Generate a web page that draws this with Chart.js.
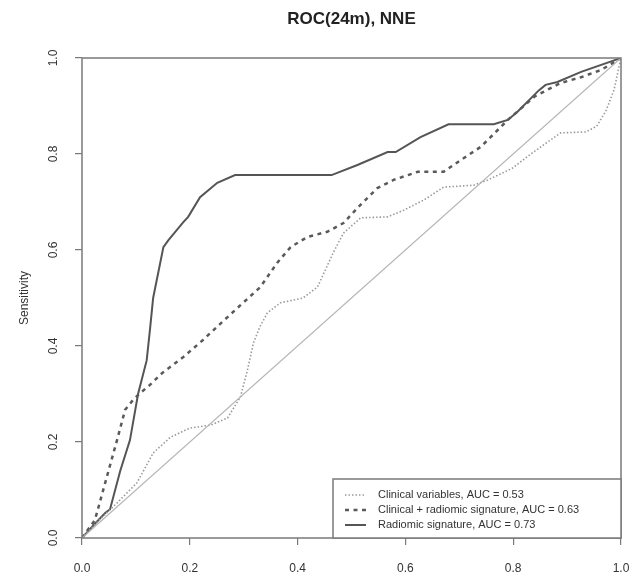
<!DOCTYPE html>
<html>
<head>
<meta charset="utf-8">
<script src="https://cdn.jsdelivr.net/npm/chart.js@4.4.1/dist/chart.umd.min.js"></script>
<style>
  html, body { margin: 0; padding: 0; background: #fff; }
  #wrap { width: 631px; height: 577px; }
</style>
</head>
<body>
<div id="wrap"><canvas id="roc" width="631" height="577"></canvas></div>
<script>
// ROC curves at 24 months (1 - specificity vs sensitivity)
const chartTitle = 'ROC(24m), NNE';
const axisTicks = [0, 0.2, 0.4, 0.6, 0.8, 1.0];

const clinicalFpr = [0, 0.03, 0.065, 0.102, 0.132, 0.164, 0.2, 0.238, 0.27, 0.294, 0.307, 0.318, 0.33, 0.344, 0.368, 0.41, 0.437, 0.466, 0.485, 0.517, 0.567, 0.597, 0.634, 0.671, 0.727, 0.753, 0.798, 0.835, 0.888, 0.935, 0.955, 0.972, 0.987, 0.996, 1];
const clinicalTpr = [0, 0.035, 0.073, 0.115, 0.177, 0.21, 0.229, 0.235, 0.25, 0.294, 0.35, 0.406, 0.44, 0.469, 0.49, 0.5, 0.523, 0.594, 0.635, 0.667, 0.669, 0.683, 0.704, 0.731, 0.735, 0.746, 0.77, 0.802, 0.844, 0.846, 0.858, 0.89, 0.933, 0.98, 1];

const combinedFpr = [0, 0.024, 0.046, 0.065, 0.08, 0.095, 0.108, 0.126, 0.149, 0.188, 0.225, 0.26, 0.294, 0.331, 0.362, 0.387, 0.418, 0.455, 0.485, 0.513, 0.548, 0.578, 0.623, 0.671, 0.697, 0.74, 0.79, 0.84, 0.888, 0.926, 0.963, 1];
const combinedTpr = [0, 0.0375, 0.127, 0.204, 0.267, 0.288, 0.302, 0.319, 0.344, 0.377, 0.413, 0.45, 0.485, 0.523, 0.573, 0.606, 0.627, 0.638, 0.656, 0.69, 0.729, 0.746, 0.763, 0.763, 0.783, 0.815, 0.871, 0.92, 0.948, 0.96, 0.975, 1];

const radiomicFpr = [0, 0.02, 0.043, 0.052, 0.071, 0.089, 0.104, 0.12, 0.126, 0.132, 0.151, 0.16, 0.188, 0.197, 0.219, 0.251, 0.284, 0.463, 0.511, 0.567, 0.582, 0.628, 0.68, 0.764, 0.79, 0.808, 0.848, 0.86, 0.882, 0.926, 1];
const radiomicTpr = [0, 0.025, 0.052, 0.06, 0.14, 0.204, 0.3, 0.37, 0.433, 0.5, 0.606, 0.62, 0.658, 0.669, 0.71, 0.74, 0.756, 0.756, 0.777, 0.804, 0.804, 0.835, 0.862, 0.862, 0.871, 0.888, 0.933, 0.944, 0.95, 0.971, 1];

const chanceFpr = [0, 1];
const chanceTpr = [0, 1];

const seriesLabels = [
  'Clinical variables, AUC = 0.53',
  'Clinical + radiomic signature, AUC = 0.63',
  'Radiomic signature, AUC = 0.73'
];

const zip = (xs, ys) => xs.map((x, i) => ({ x, y: ys[i] }));
const FONT = '"Liberation Sans", Arial, Helvetica, sans-serif';
const AXIS_GREY = '#7a7a7a';

// title centred over the plot, frame around it, legend box bottom right
const frameAndLegend = {
  id: 'frameAndLegend',
  afterDatasetsDraw(chart) {
    const { ctx, chartArea: a } = chart;
    ctx.save();
    ctx.fillStyle = '#222';
    ctx.font = 'bold 17px ' + FONT;
    ctx.textAlign = 'center';
    ctx.textBaseline = 'middle';
    ctx.fillText(chartTitle, (a.left + a.right) / 2, 19);

    ctx.strokeStyle = AXIS_GREY;
    ctx.lineWidth = 1.5;
    ctx.strokeRect(a.left, a.top, a.right - a.left, a.bottom - a.top);

    const bx = 333, by = 479, bw = a.right - bx, bh = a.bottom - by;
    ctx.fillStyle = '#fff';
    ctx.fillRect(bx, by, bw, bh);
    ctx.strokeRect(bx, by, bw, bh);

    ctx.font = '11px ' + FONT;
    ctx.textAlign = 'left';
    const entries = chart.data.datasets.filter(d => d.inLegend);
    entries.forEach((d, i) => {
      const y = by + 16 + i * 15;
      ctx.beginPath();
      ctx.strokeStyle = d.borderColor;
      ctx.lineWidth = d.borderWidth;
      ctx.setLineDash(d.borderDash || []);
      ctx.moveTo(345, y);
      ctx.lineTo(366, y);
      ctx.stroke();
      ctx.setLineDash([]);
      ctx.fillStyle = '#333';
      ctx.fillText(d.label, 378, y);
    });
    ctx.restore();
  }
};

new Chart(document.getElementById('roc'), {
  type: 'line',
  data: {
    datasets: [
      {
        label: 'chance',
        data: zip(chanceFpr, chanceTpr),
        borderColor: '#b5b5b5',
        borderWidth: 1.3,
        inLegend: false
      },
      {
        label: seriesLabels[0],
        data: zip(clinicalFpr, clinicalTpr),
        borderColor: '#9a9a9a',
        borderWidth: 1.6,
        borderDash: [1.5, 2],
        inLegend: true
      },
      {
        label: seriesLabels[1],
        data: zip(combinedFpr, combinedTpr),
        borderColor: '#5a5a5a',
        borderWidth: 2.5,
        borderDash: [4, 4.5],
        inLegend: true
      },
      {
        label: seriesLabels[2],
        data: zip(radiomicFpr, radiomicTpr),
        borderColor: '#555',
        borderWidth: 2,
        inLegend: true
      }
    ]
  },
  options: {
    responsive: false,
    animation: false,
    layout: { padding: { left: 0, right: 10, top: 58, bottom: 0 } },
    elements: {
      point: { radius: 0, hoverRadius: 0 },
      line: { tension: 0, fill: false }
    },
    plugins: {
      legend: { display: false },
      tooltip: { enabled: false },
      title: { display: false }
    },
    scales: {
      x: {
        type: 'linear',
        min: 0,
        max: 1,
        afterBuildTicks: s => { s.ticks = axisTicks.map(v => ({ value: v })); },
        afterFit: s => { s.height = 39; s.paddingLeft = 0; s.paddingRight = 0; },
        border: { display: false },
        grid: { drawOnChartArea: false, drawTicks: true, tickLength: 7, color: AXIS_GREY, lineWidth: 1.2 },
        ticks: {
          color: '#333',
          padding: 16,
          maxRotation: 0,
          font: { family: FONT, size: 12 },
          callback: v => v.toFixed(1)
        }
      },
      y: {
        type: 'linear',
        min: 0,
        max: 1,
        afterBuildTicks: s => { s.ticks = axisTicks.map(v => ({ value: v })); },
        afterFit: s => { s.width = 82; s.paddingTop = 0; s.paddingBottom = 0; },
        border: { display: false },
        grid: { drawOnChartArea: false, drawTicks: true, tickLength: 7, color: AXIS_GREY, lineWidth: 1.2 },
        title: {
          display: true,
          text: 'Sensitivity',
          color: '#333',
          font: { family: FONT, size: 12 },
          padding: { top: 17, bottom: 0 }
        },
        ticks: {
          color: '#333',
          padding: 13,
          minRotation: 90,
          maxRotation: 90,
          crossAlign: 'center',
          font: { family: FONT, size: 12 },
          callback: v => v.toFixed(1)
        }
      }
    }
  },
  plugins: [frameAndLegend]
});
</script>
</body>
</html>
